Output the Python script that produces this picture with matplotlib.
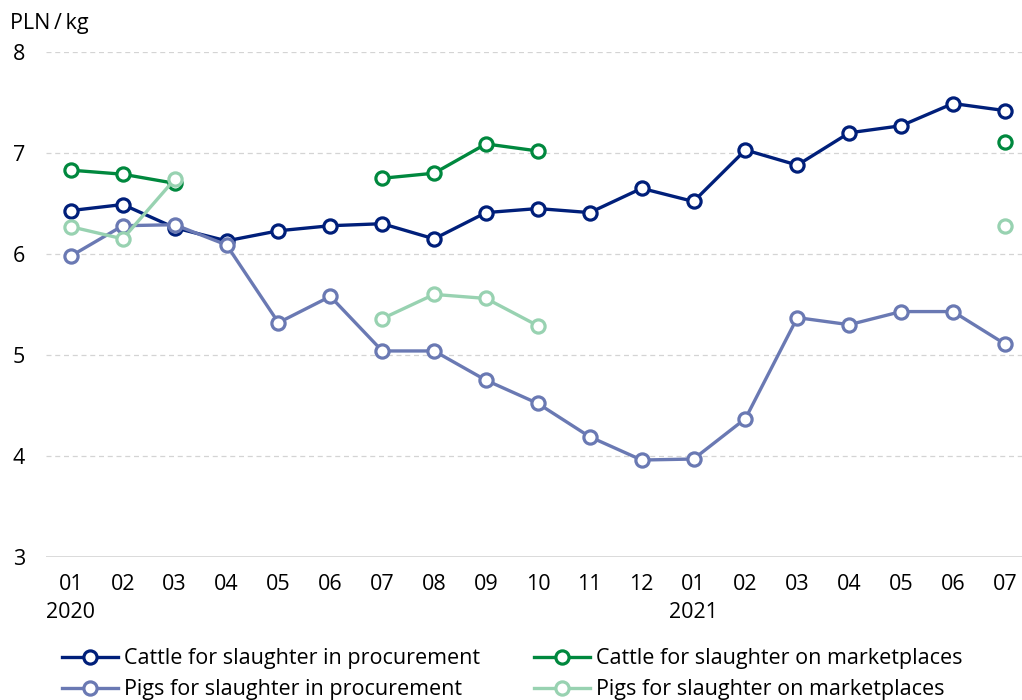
import numpy as np
import matplotlib.pyplot as plt

plt.rcParams['font.family'] = ['Open Sans', 'DejaVu Sans']

# data
months = ['01', '02', '03', '04', '05', '06', '07', '08', '09', '10', '11', '12',
          '01', '02', '03', '04', '05', '06', '07']
nan = np.nan
cattle_proc = [6.43, 6.49, 6.26, 6.13, 6.23, 6.28, 6.30, 6.15, 6.41, 6.45, 6.41, 6.65,
               6.52, 7.03, 6.88, 7.20, 7.27, 7.49, 7.42]
pigs_proc = [5.98, 6.28, 6.29, 6.09, 5.32, 5.58, 5.04, 5.04, 4.75, 4.52, 4.19, 3.96,
             3.97, 4.37, 5.37, 5.30, 5.43, 5.43, 5.11]
cattle_market = [6.83, 6.79, 6.70, nan, nan, nan, 6.75, 6.80, 7.09, 7.02, nan, nan,
                 nan, nan, nan, nan, nan, nan, 7.11]
pigs_market = [6.27, 6.15, 6.74, nan, nan, nan, 5.36, 5.60, 5.56, 5.29, nan, nan,
               nan, nan, nan, nan, nan, nan, 6.28]

x = np.arange(len(months))

fig = plt.figure(figsize=(10.22, 7), dpi=100)
ax = fig.add_axes([0.045, 0.2043, 0.955, 0.7214])

series = [
    (cattle_proc, '#001f7a', 'Cattle for slaughter in procurement'),
    (pigs_proc, '#6a79b3', 'Pigs for slaughter in procurement'),
    (cattle_market, '#00883e', 'Cattle for slaughter on marketplaces'),
    (pigs_market, '#98d2b1', 'Pigs for slaughter on marketplaces'),
]
for vals, col, lab in series:
    ax.plot(x, vals, color=col, lw=2.4, marker='o', ms=9.5, mfc='white',
            mec=col, mew=2.3, label=lab, zorder=3)

ax.set_xlim(-0.48, 18.33)
ax.set_ylim(3, 8)
ax.set_yticks([3, 4, 5, 6, 7, 8])
for v in [4, 5, 6, 7, 8]:
    ax.axhline(v, color='#d4d4d4', lw=0.9, ls=(0, (4, 3)), zorder=1)
ax.axhline(3, color='#d4d4d4', lw=1.2, zorder=1)

for s in ax.spines.values():
    s.set_visible(False)
ax.tick_params(length=0, labelsize=15.5)
ax.set_yticklabels(['3', '4', '5', '6', '7', '8'], ha='left')
ax.tick_params(axis='y', pad=24)
ax.set_xticks(x)
ax.set_xticklabels(months)
ax.tick_params(axis='x', pad=12)

fig.text(0.010, 0.952, 'PLN\u2009/\u2009kg', fontsize=15.5, va='bottom')
ax.text(0, -0.09, '2020', transform=ax.get_xaxis_transform(), ha='center',
        va='top', fontsize=15.5)
ax.text(12, -0.09, '2021', transform=ax.get_xaxis_transform(), ha='center',
        va='top', fontsize=15.5)

fig.legend(loc='upper left', bbox_to_anchor=(0.052, 0.086), ncol=2, frameon=False,
           fontsize=15.5, handlelength=2.6, handletextpad=0.3, labelspacing=0.45,
           columnspacing=2.5, borderaxespad=0)

fig.savefig('out.png', dpi=100)
